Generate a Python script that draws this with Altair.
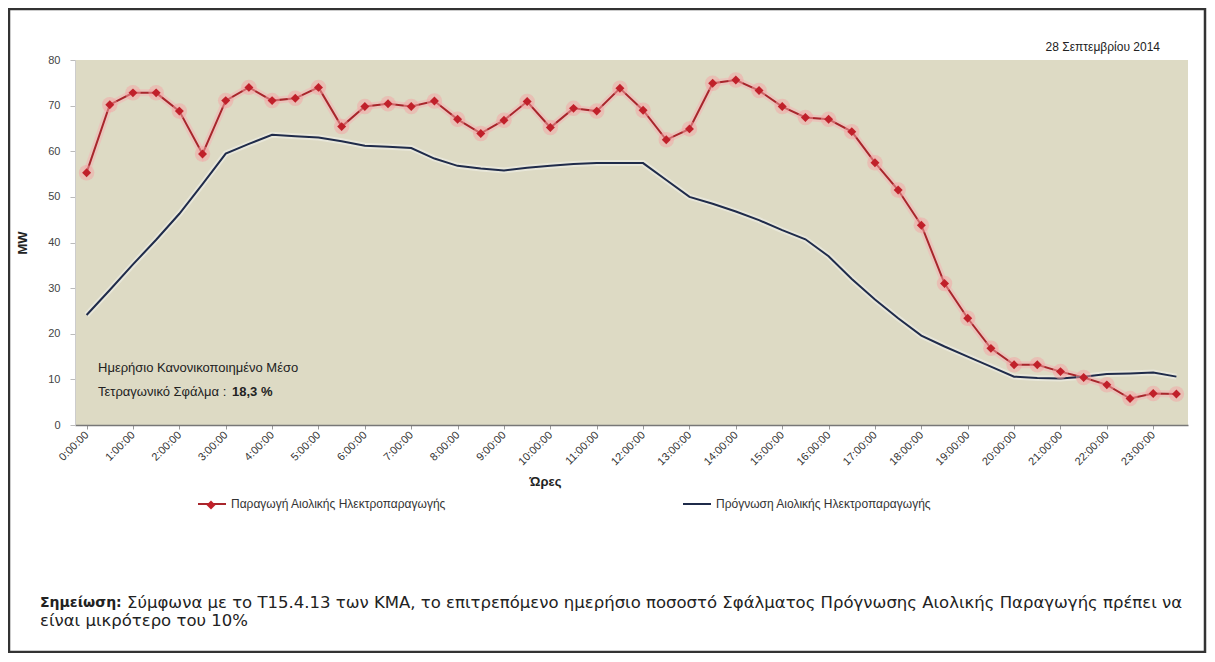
import altair as alt
import pandas as pd

# ---- data ----
times = [f"{h}:{m:02d}:00" for h in range(24) for m in (0, 30)]
hour_labels = [f"{h}:00:00" for h in range(24)]

actual = [55.3, 70.2, 72.8, 72.8, 68.8, 59.4, 71.1, 74.0, 71.1, 71.6, 74.0, 65.4,
          69.8, 70.4, 69.8, 71.0, 67.0, 63.9, 66.8, 70.9, 65.2, 69.4, 68.8, 73.8,
          69.0, 62.5, 64.9, 74.9, 75.6, 73.3, 69.8, 67.4, 67.0, 64.3, 57.5, 51.5,
          43.8, 31.0, 23.4, 16.8, 13.2, 13.2, 11.7, 10.4, 8.8, 5.8, 6.9, 6.8]
forecast = [24.1, 29.6, 35.2, 40.6, 46.3, 52.8, 59.5, 61.6, 63.6, 63.3, 63.0, 62.2,
            61.2, 61.0, 60.7, 58.4, 56.8, 56.2, 55.8, 56.4, 56.8, 57.2, 57.4, 57.4,
            57.4, 53.7, 50.0, 48.5, 46.8, 44.9, 42.7, 40.7, 37.0, 32.0, 27.5, 23.4,
            19.6, 17.2, 15.0, 12.8, 10.6, 10.3, 10.2, 10.6, 11.2, 11.3, 11.5, 10.6]

S_ACT = "Παραγωγή Αιολικής Ηλεκτροπαραγωγής"
S_FC = "Πρόγνωση Αιολικής Ηλεκτροπαραγωγής"

date_text = "28 Σεπτεμβρίου 2014"
annot_line1 = "Ημερήσιο Κανονικοποιημένο Μέσο"
annot_line2 = "Τετραγωνικό Σφάλμα : "
annot_value = "18,3 %"
note_bold = "Σημείωση:"
note_line1 = "Σύμφωνα με το Τ15.4.13 των ΚΜΑ, το επιτρεπόμενο ημερήσιο ποσοστό Σφάλματος Πρόγνωσης Αιολικής Παραγωγής πρέπει να"
note_line2 = "είναι μικρότερο του 10%"

FONT = "Liberation Sans"
WIDE = "DejaVu Sans"
RED = "#C0202A"
RED_LINE = "#A8262C"
NAVY = "#1F2B4A"

df = pd.DataFrame({
    "time": times * 2,
    "series": [S_ACT] * len(times) + [S_FC] * len(times),
    "value": actual + forecast,
})
df_act = df[df.series == S_ACT].copy()
df_act["marker"] = S_ACT
df_fc = df[df.series == S_FC]

x_enc = alt.X("time:O", sort=times,
              scale=alt.Scale(type="point", padding=0.5),
              axis=alt.Axis(values=hour_labels, labelAngle=-45, labelAlign="right",
                            labelBaseline="middle", labelPadding=4, labelFontSize=11,
                            labelColor="#333", tickSize=4, tickColor="#999",
                            domainColor="#777", domainWidth=1.5,
                            title="Ώρες", titleFontSize=13, titleFontWeight="bold",
                            titleX=470, titleY=50, titleColor="#222"))
y_enc = alt.Y("value:Q", scale=alt.Scale(domain=[0, 80], nice=False),
              axis=alt.Axis(values=list(range(0, 81, 10)), labelFontSize=11,
                            labelColor="#444", labelPadding=10, tickSize=5,
                            tickColor="#BBB", domainColor="#CCC", grid=False,
                            title="MW", titleFontSize=13, titleFontWeight="bold",
                            titlePadding=18, titleColor="#222"))

frame = alt.Chart(pd.DataFrame({"a": [0]})).mark_rect(
    fill="white", fillOpacity=0, stroke="#333", strokeWidth=2.5, clip=False
).encode(x=alt.value(-66), x2=alt.value(1130), y=alt.value(-51), y2=alt.value(592))

halo_act = alt.Chart(df_act).mark_line(color="#F2B4B4", strokeWidth=7, opacity=0.55).encode(
    x=x_enc, y=y_enc)
halo_fc = alt.Chart(df_fc).mark_line(color="#F4F4F0", strokeWidth=6, opacity=0.5).encode(
    x=x_enc, y=y_enc)

lines = alt.Chart(df).mark_line(strokeWidth=2).encode(
    x=x_enc, y=y_enc,
    color=alt.Color("series:N", scale=alt.Scale(domain=[S_ACT, S_FC], range=[RED_LINE, NAVY]),
                    legend=alt.Legend(orient="none", legendX=122, legendY=429,
                                      direction="horizontal", title=None,
                                      symbolType="stroke", symbolSize=784,
                                      symbolStrokeWidth=2, labelFontSize=12,
                                      labelFont=FONT, labelColor="#333", labelLimit=500,
                                      columnPadding=232, labelOffset=4)),
)

halo_pts = alt.Chart(df_act).mark_circle(size=240, color="#F4A4A4", opacity=0.5).encode(
    x=x_enc, y=y_enc)
pts = alt.Chart(df_act).mark_point(filled=True, size=80, color=RED, opacity=1).encode(
    x=x_enc, y=y_enc,
    shape=alt.Shape("marker:N", scale=alt.Scale(domain=[S_ACT], range=["diamond"]),
                    legend=alt.Legend(orient="none", legendX=131, legendY=440,
                                      title=None, labelExpr="''", symbolSize=80,
                                      symbolFillColor=RED, symbolStrokeColor=RED,
                                      symbolStrokeWidth=0)),
)

base_text = pd.DataFrame({"a": [0]})


def txt(s, x, y, size, weight="normal", font=FONT, align="left"):
    return alt.Chart(base_text).mark_text(
        text=s, align=align, baseline="middle", font=font, fontSize=size,
        fontWeight=weight, color="#222").encode(x=alt.value(x), y=alt.value(y))


layers = [
    frame, halo_fc, halo_act, lines, halo_pts, pts,
    txt(date_text, 1085, -13, 12, align="right"),
    txt(annot_line1, 23, 308, 13),
    txt(annot_line2, 23, 332, 13),
    txt(annot_value, 157, 332, 13, weight="bold"),
    txt(note_bold, -35, 543, 14, weight="bold", font=WIDE),
    txt(note_line1, 52, 543, 16.5, font=WIDE),
    txt(note_line2, -35, 561, 16.5, font=WIDE),
]

chart = alt.layer(*layers).properties(
    width=1113, height=365,
    padding={"left": 67, "top": 52, "right": 19, "bottom": 228},
    autosize=alt.AutoSizeParams(type="none"),
    background="white",
).configure_view(
    fill="#DDDAC4", stroke=None
).configure_axis(
    labelFont=FONT, titleFont=FONT
)

chart.save("out.html", embed_options={"renderer": "svg", "actions": False})
